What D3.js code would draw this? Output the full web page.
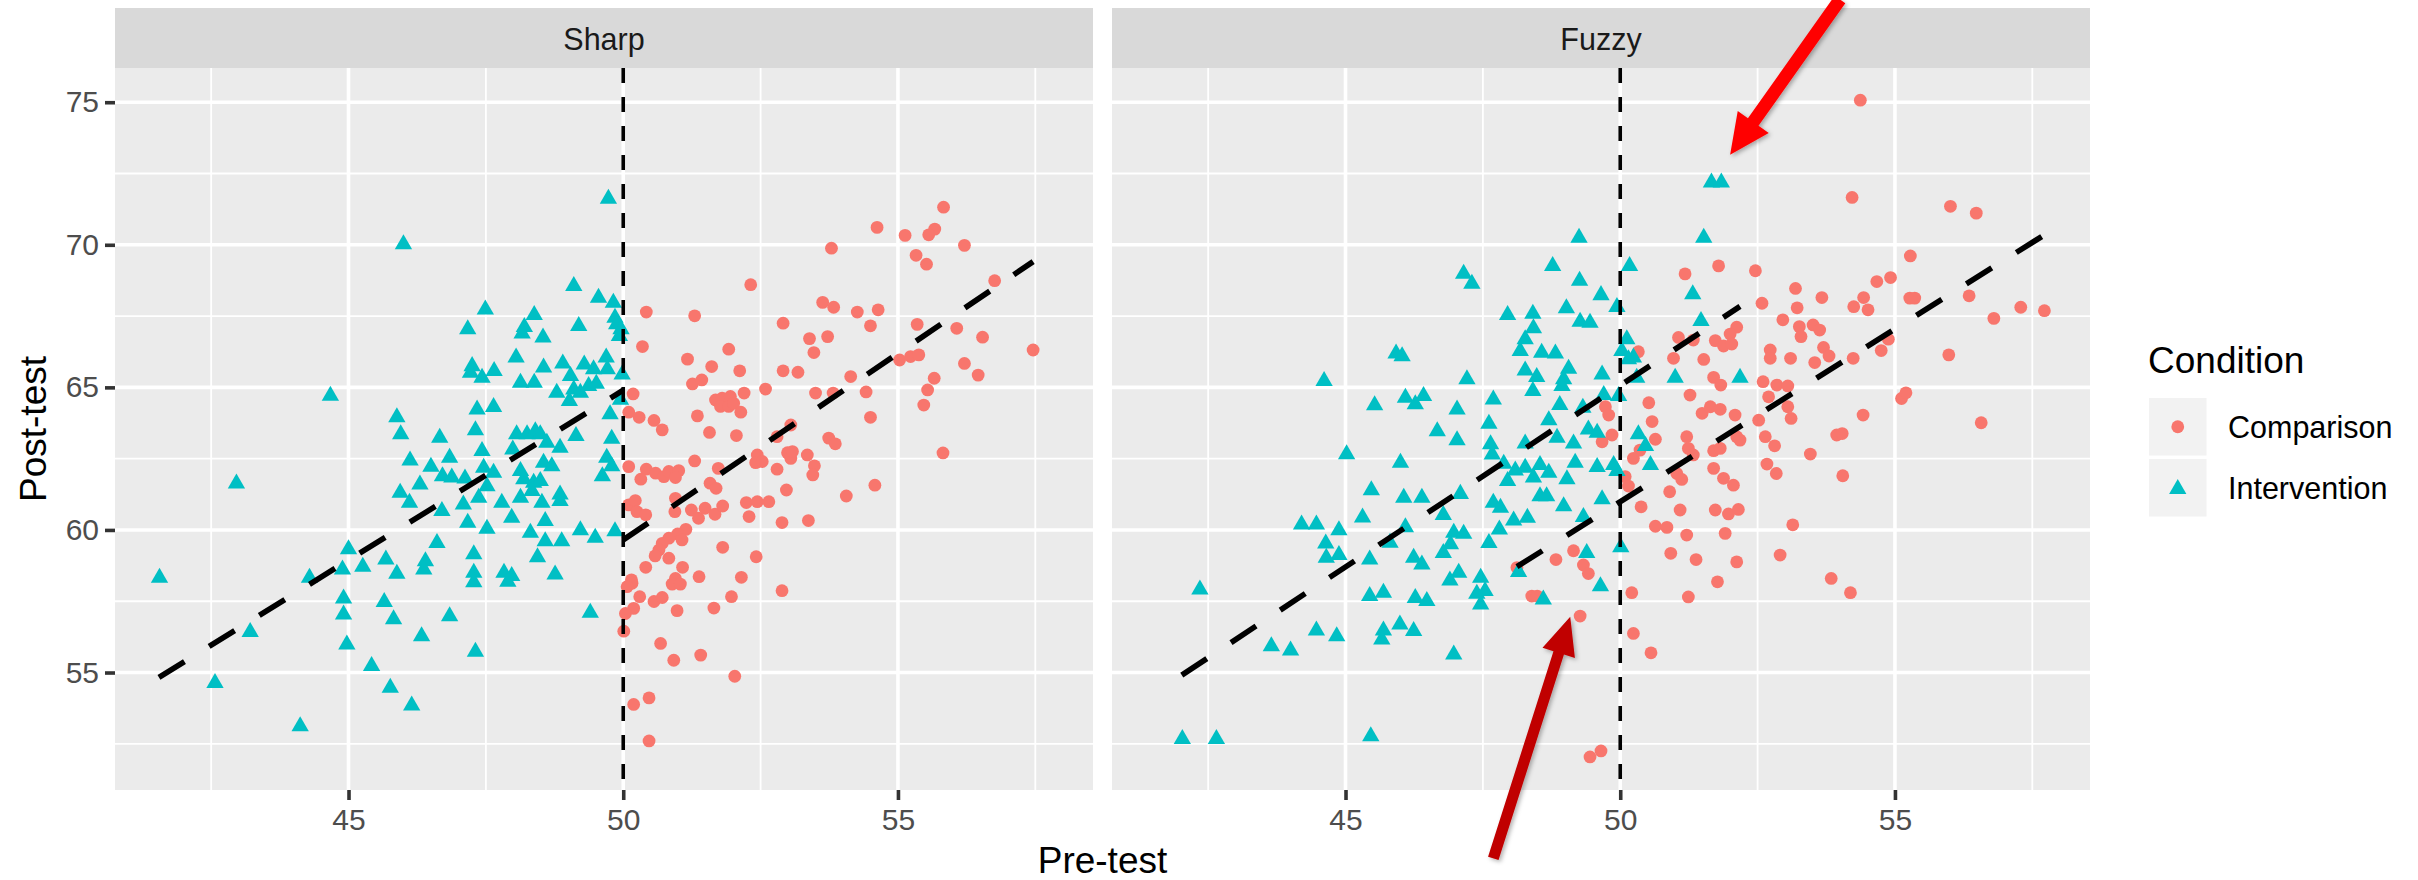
<!DOCTYPE html>
<html>
<head>
<meta charset="utf-8">
<script src="https://cdn.jsdelivr.net/npm/d3@7"></script>
<style>
  body { margin: 0; background: #fff; }
  svg { font-family: "Liberation Sans", Arial, sans-serif; display: block; }
</style>
</head>
<body>
<svg></svg>
<script>
// facets, legend, ticks
const facets = ['Sharp', 'Fuzzy'];
const conditions = ['Comparison', 'Intervention'];
const conditionColors = ['#F8766D', '#00BFC4'];
const xTicks = [45, 50, 55];
const xMinor = [42.5, 47.5, 52.5, 57.5];
const yTicks = [55, 60, 65, 70, 75];
const yMinor = [52.5, 57.5, 62.5, 67.5, 72.5];
const cutoff = 50;

// [pre-test, post-test]
const sharpIntervention = [
  [49.73,71.65],[46.00,70.05],[49.10,68.59],[49.55,68.18],[49.82,68.00],[47.49,67.77],[47.17,67.07],[48.38,67.57],
  [48.20,67.15],[48.16,66.92],[48.54,66.78],[49.19,67.19],[49.85,67.48],[49.88,67.25],[49.93,66.84],[49.96,67.07],
  [48.05,66.08],[47.25,65.78],[47.22,65.55],[47.43,65.37],[47.65,65.61],[48.13,65.20],[48.38,65.20],[48.55,65.73],
  [48.90,65.87],[49.04,65.43],[49.29,65.84],[49.46,65.67],[49.69,66.08],[49.71,65.67],[49.98,65.49],[48.79,64.85],
  [49.10,64.96],[49.22,64.85],[49.37,65.08],[49.51,65.16],[49.02,64.56],[49.76,64.09],[45.88,63.99],[45.95,63.39],
  [47.34,64.26],[47.64,64.35],[47.31,63.53],[46.66,63.27],[48.06,63.39],[48.25,63.39],[48.40,63.50],[48.49,63.39],
  [48.61,63.09],[48.85,62.92],[49.14,63.33],[49.79,63.23],[47.99,62.86],[47.43,62.80],[46.84,62.57],[46.12,62.47],
  [46.50,62.25],[46.71,61.92],[46.88,61.87],[47.12,61.84],[46.30,61.63],[47.46,62.22],[47.64,62.04],[47.52,61.57],
  [48.13,62.10],[48.55,62.39],[48.70,62.27],[48.19,61.81],[48.37,61.69],[48.49,61.75],[48.34,61.40],[48.13,61.16],
  [48.85,61.28],[48.85,61.05],[49.70,62.57],[49.79,62.27],[49.62,61.92],[45.94,61.34],[46.11,60.99],[46.70,60.70],
  [47.09,60.93],[47.37,61.16],[47.79,60.99],[48.52,60.99],[47.17,60.29],[47.52,60.08],[47.97,60.46],[48.58,60.35],
  [48.31,59.94],[49.22,60.02],[49.49,59.76],[49.85,59.99],[46.61,59.58],[48.58,59.64],[48.88,59.64],[45.68,59.00],
  [46.40,58.94],[46.37,58.65],[47.28,59.18],[48.44,59.08],[45.88,58.50],[47.28,58.53],[47.83,58.53],[47.97,58.42],
  [48.76,58.47],[49.95,64.60],[44.67,64.74],[42.96,61.66],[41.56,58.36],[42.57,54.67],[44.12,53.15],[43.21,56.46],
  [44.29,58.36],[45.00,59.36],[44.89,58.65],[45.26,58.74],[44.91,57.63],[44.91,57.07],[44.97,56.02],[45.65,57.51],
  [45.82,56.90],[45.42,55.26],[45.76,54.50],[46.15,53.88],[46.33,56.31],[47.31,55.76],[46.84,57.01],[47.28,58.20],
  [47.90,58.22],[49.40,57.13]
];

const sharpComparison = [
  [54.62,70.61],[55.13,70.33],[53.79,69.88],[52.32,68.60],[50.42,67.64],[51.30,67.51],[53.63,67.98],[53.83,67.81],
  [54.26,67.64],[54.64,67.72],[52.91,67.25],[54.50,67.16],[50.35,66.43],[53.39,66.71],[53.72,66.78],[53.47,66.22],
  [51.92,66.34],[51.17,65.99],[51.61,65.73],[52.12,65.58],[52.91,65.58],[53.18,65.53],[51.26,65.12],[51.43,65.26],
  [54.14,65.38],[55.03,65.96],[55.23,66.08],[50.18,64.77],[52.59,64.94],[52.20,64.80],[53.50,64.80],[53.82,64.80],
  [54.42,64.84],[51.68,64.56],[51.80,64.62],[51.95,64.68],[51.77,64.33],[51.92,64.33],[52.01,64.44],[52.14,64.13],
  [50.10,64.13],[50.29,63.95],[50.56,63.84],[50.71,63.51],[51.35,64.00],[51.57,63.42],[52.06,63.31],[53.05,63.68],
  [52.80,63.27],[53.74,63.22],[53.86,63.02],[54.50,63.95],[50.10,62.22],[50.42,62.13],[50.32,61.78],[50.59,61.99],
  [50.74,61.87],[50.83,62.05],[51.01,62.08],[50.95,61.84],[51.30,62.42],[51.73,62.16],[51.58,61.64],[51.69,61.46],
  [50.95,61.11],[52.44,62.63],[52.41,62.36],[52.53,62.40],[52.80,62.13],[52.99,62.71],[53.05,62.51],[53.08,62.75],
  [53.35,62.63],[53.48,62.25],[53.45,61.93],[52.97,61.40],[54.06,61.19],[54.58,61.57],[50.10,60.88],[50.22,61.03],
  [50.25,60.64],[50.41,60.53],[50.94,60.64],[51.24,60.70],[51.37,60.41],[51.49,60.76],[51.67,60.55],[51.81,60.84],
  [52.24,60.96],[52.44,60.99],[52.65,60.99],[52.29,60.47],[52.89,60.26],[53.37,60.33],[51.14,60.02],[50.99,59.86],
  [50.83,59.71],[51.07,59.65],[50.71,59.53],[50.65,59.30],[50.58,59.09],[50.83,59.01],[51.81,59.39],[52.42,59.06],
  [50.41,58.69],[51.08,58.69],[51.38,58.36],[52.15,58.34],[50.15,58.25],[50.95,58.30],[50.16,58.13],[50.07,58.01],
  [50.89,58.10],[51.04,58.10],[52.89,57.87],[50.30,57.66],[50.56,57.49],[50.71,57.63],[50.19,57.25],[50.04,57.07],
  [50.98,57.17],[51.65,57.26],[51.97,57.66],[50.01,56.45],[50.68,56.02],[50.92,55.43],[51.41,55.61],[52.03,54.87],
  [50.19,53.88],[50.47,54.11],[50.47,52.60],[55.83,71.32],[55.67,70.55],[55.56,70.35],[55.33,69.63],[55.52,69.32],
  [56.21,69.98],[56.76,68.74],[55.35,67.21],[56.07,67.07],[56.54,66.76],[57.46,66.31],[55.38,66.14],[56.21,65.84],
  [56.46,65.43],[55.66,65.32],[55.54,64.91],[55.47,64.38],[55.82,62.70]
];

const fuzzyIntervention = [
  [49.25,70.28],[51.52,70.28],[50.17,69.29],[48.77,69.29],[47.15,69.02],[47.30,68.67],[49.26,68.77],[49.65,68.27],
  [49.94,67.85],[51.32,68.30],[49.02,67.81],[47.95,67.57],[48.41,67.62],[48.42,67.11],[49.27,67.34],[49.45,67.30],
  [51.47,67.36],[48.27,66.72],[48.18,66.31],[48.57,66.25],[48.82,66.22],[50.12,66.72],[50.03,66.31],[50.24,66.08],
  [50.15,66.02],[46.03,66.13],[48.27,65.63],[48.48,65.40],[49.06,65.69],[48.97,65.32],[48.94,65.08],[49.67,65.49],
  [50.30,65.37],[51.00,65.37],[52.18,65.37],[47.21,65.32],[48.41,64.91],[46.42,64.73],[46.09,64.67],[46.27,64.44],
  [47.69,64.61],[48.90,64.42],[49.70,64.77],[49.97,64.73],[47.03,64.26],[49.32,64.32],[48.70,63.88],[47.61,63.76],
  [46.67,63.50],[47.03,63.18],[48.85,63.27],[49.42,63.56],[49.58,63.44],[50.33,63.39],[50.46,62.98],[47.64,63.04],
  [48.27,63.07],[49.15,63.07],[47.67,62.68],[47.88,62.36],[48.09,62.12],[48.27,62.22],[48.42,61.87],[48.54,62.31],
  [48.70,62.04],[47.95,61.75],[49.03,61.81],[49.18,62.39],[49.58,62.24],[49.88,62.31],[49.94,62.10],[50.55,62.31],
  [46.00,62.39],[46.06,61.16],[46.39,61.16],[47.09,61.30],[47.69,60.99],[47.82,60.81],[48.54,61.22],[48.66,61.22],
  [48.97,60.87],[49.67,61.11],[46.78,60.56],[48.06,60.37],[48.31,60.46],[47.80,60.05],[49.33,60.49],[46.09,60.13],
  [46.97,59.94],[47.15,59.90],[47.61,59.58],[46.91,59.53],[46.78,59.23],[50.01,59.43],[49.39,59.23],[46.24,59.06],
  [46.39,58.82],[47.06,58.53],[46.90,58.26],[47.46,58.36],[48.15,58.56],[49.64,58.06],[47.39,57.80],[47.54,57.89],
  [47.46,57.42],[46.27,57.65],[46.48,57.54],[48.60,57.60],[46.24,56.49],[45.02,62.69],[45.47,61.43],[45.31,60.47],
  [44.20,60.23],[44.47,60.23],[44.88,60.02],[44.64,59.56],[44.65,59.06],[44.88,59.16],[45.44,59.00],[45.81,59.59],
  [42.35,57.95],[45.44,57.72],[45.69,57.83],[44.47,56.51],[44.84,56.31],[43.65,55.96],[44.00,55.81],[45.99,56.72],
  [45.69,56.51],[45.66,56.19],[46.97,55.67],[42.03,52.70],[42.65,52.70],[45.46,52.80],[45.92,66.22],[44.61,65.26],
  [45.53,64.41],[51.66,72.22],[51.84,72.22]
];

const fuzzyComparison = [
  [51.18,68.98],[51.79,69.26],[52.46,69.09],[52.58,67.95],[52.12,67.11],[52.00,66.87],[51.06,66.75],[51.33,66.66],
  [51.73,66.64],[51.88,66.45],[52.03,66.52],[50.33,66.25],[50.97,66.02],[51.52,65.98],[52.73,66.31],[52.73,66.02],
  [51.70,65.35],[51.83,65.08],[52.60,65.20],[52.85,65.08],[51.27,64.73],[50.52,64.46],[50.58,63.80],[51.49,64.09],
  [51.64,64.32],[51.82,64.23],[52.09,64.03],[52.52,63.85],[52.70,64.67],[49.73,64.32],[49.79,64.03],[49.67,63.09],
  [49.85,63.33],[50.64,63.18],[51.21,63.27],[51.24,62.86],[51.70,62.78],[51.82,62.86],[52.12,63.27],[52.18,63.15],
  [52.64,63.27],[50.36,62.80],[50.24,62.51],[51.33,62.63],[52.67,62.31],[52.84,61.98],[50.09,61.87],[50.15,61.54],
  [51.03,61.98],[51.12,61.77],[51.70,62.16],[51.88,61.81],[52.06,61.57],[50.90,61.34],[50.38,60.81],[51.09,60.70],
  [51.73,60.70],[51.97,60.56],[52.15,60.72],[50.64,60.13],[50.85,60.09],[51.21,59.82],[51.91,59.88],[50.92,59.18],
  [51.38,58.96],[52.12,58.88],[52.91,59.12],[51.77,58.18],[51.24,57.65],[50.21,57.80],[50.24,56.37],[48.83,58.96],
  [49.15,59.27],[49.33,58.77],[49.42,58.47],[48.12,58.68],[48.39,57.68],[48.49,57.68],[49.27,56.98],[54.37,75.07],
  [54.22,71.66],[56.01,71.35],[56.48,71.11],[55.28,69.61],[53.19,68.47],[53.67,68.15],[53.22,67.79],[54.25,67.83],
  [54.43,68.15],[54.51,67.72],[54.67,68.71],[54.92,68.85],[55.27,68.13],[55.36,68.13],[56.35,68.21],[56.80,67.42],
  [57.29,67.81],[57.72,67.69],[52.96,67.37],[53.26,67.13],[53.51,67.19],[53.63,67.01],[53.29,66.78],[53.10,66.02],
  [53.54,65.87],[53.70,66.40],[53.80,66.10],[54.24,66.02],[54.75,66.29],[54.88,66.69],[55.98,66.14],[53.05,65.05],
  [53.05,64.32],[53.11,63.91],[55.12,64.61],[55.20,64.81],[54.42,64.03],[56.57,63.76],[53.94,63.33],[54.04,63.38],
  [53.46,62.66],[52.81,62.95],[54.05,61.90],[53.14,60.18],[53.84,58.30],[54.19,57.80],[50.56,55.69],[49.45,52.04],
  [49.65,52.25]
];

// fitted regression segments, [start, end]
const sharpFitComparison = [[50, 59.65], [57.46, 69.41]];
const sharpFitIntervention = [[41.55, 54.83], [50, 64.9]];
const fuzzyFitComparison = [[48.12, 58.71], [57.72, 70.35]];
const fuzzyFitIntervention = [[42.02, 54.91], [52.18, 67.84]];

// annotation arrows on the Fuzzy panel, [tail, tip] in data units
const arrowTop = [[54.0, 78.6], [52.0, 73.16]];
const arrowBottom = [[47.69, 48.48], [49.09, 56.96]];

const panelData = {
  Sharp: { points: [sharpComparison, sharpIntervention], fits: [sharpFitComparison, sharpFitIntervention] },
  Fuzzy: { points: [fuzzyComparison, fuzzyIntervention], fits: [fuzzyFitComparison, fuzzyFitIntervention] }
};

const width = 2418;
const height = 880;
const panelTop = 68;
const panelBottom = 790;
const panelWidth = 978;
const stripTop = 8;
const panelLeft = { Sharp: 115, Fuzzy: 1112 };

const svg = d3.select('svg')
  .attr('width', width)
  .attr('height', height);

const xScale = d3.scaleLinear()
  .domain([40.75, 58.55])
  .range([0, panelWidth]);

const yScale = d3.scaleLinear()
  .domain([50.88, 76.2])
  .range([panelBottom, panelTop]);

const triangle = d3.symbol().type(d3.symbolTriangle).size(130);

const defs = svg.append('defs');
defs.append('filter')
  .attr('id', 'shadow')
  .attr('x', '-50%').attr('y', '-50%').attr('width', '200%').attr('height', '200%')
  .append('feDropShadow')
  .attr('dx', 2).attr('dy', 2).attr('stdDeviation', 2)
  .attr('flood-color', '#000').attr('flood-opacity', 0.3);

facets.forEach(facet => {
  const g = svg.append('g')
    .attr('transform', `translate(${panelLeft[facet]},0)`);

  // strip
  g.append('rect')
    .attr('x', 0).attr('y', stripTop)
    .attr('width', panelWidth).attr('height', panelTop - stripTop)
    .attr('fill', '#D9D9D9');
  g.append('text')
    .attr('x', panelWidth / 2).attr('y', 50)
    .attr('text-anchor', 'middle')
    .attr('font-size', 30.5)
    .attr('fill', '#1A1A1A')
    .text(facet);

  // panel background + grid
  g.append('rect')
    .attr('x', 0).attr('y', panelTop)
    .attr('width', panelWidth).attr('height', panelBottom - panelTop)
    .attr('fill', '#EBEBEB');

  g.selectAll('.minor-x').data(xMinor).enter().append('line')
    .attr('x1', d => xScale(d)).attr('x2', d => xScale(d))
    .attr('y1', panelTop).attr('y2', panelBottom)
    .attr('stroke', '#fff').attr('stroke-width', 1.8);
  g.selectAll('.minor-y').data(yMinor).enter().append('line')
    .attr('x1', 0).attr('x2', panelWidth)
    .attr('y1', d => yScale(d)).attr('y2', d => yScale(d))
    .attr('stroke', '#fff').attr('stroke-width', 1.8);
  g.selectAll('.major-x').data(xTicks).enter().append('line')
    .attr('x1', d => xScale(d)).attr('x2', d => xScale(d))
    .attr('y1', panelTop).attr('y2', panelBottom)
    .attr('stroke', '#fff').attr('stroke-width', 3.6);
  g.selectAll('.major-y').data(yTicks).enter().append('line')
    .attr('x1', 0).attr('x2', panelWidth)
    .attr('y1', d => yScale(d)).attr('y2', d => yScale(d))
    .attr('stroke', '#fff').attr('stroke-width', 3.6);

  // points
  const [comp, inter] = panelData[facet].points;
  g.selectAll('.comparison').data(comp).enter().append('circle')
    .attr('class', 'comparison')
    .attr('cx', d => xScale(d[0]))
    .attr('cy', d => yScale(d[1]))
    .attr('r', 6.4)
    .attr('fill', conditionColors[0]);
  g.selectAll('.intervention').data(inter).enter().append('path')
    .attr('class', 'intervention')
    .attr('d', triangle)
    .attr('transform', d => `translate(${xScale(d[0])},${yScale(d[1]) + 1})`)
    .attr('fill', conditionColors[1]);

  // regression fits
  const line = d3.line().x(d => xScale(d[0])).y(d => yScale(d[1]));
  g.selectAll('.fit').data(panelData[facet].fits).enter().append('path')
    .attr('d', line)
    .attr('fill', 'none')
    .attr('stroke', '#000')
    .attr('stroke-width', 5.6)
    .attr('stroke-dasharray', '30,29');

  // cutoff
  g.append('line')
    .attr('x1', xScale(cutoff)).attr('x2', xScale(cutoff))
    .attr('y1', panelTop).attr('y2', panelBottom)
    .attr('stroke', '#000')
    .attr('stroke-width', 3.6)
    .attr('stroke-dasharray', '15,14');

  // x axis
  const xAxis = d3.axisBottom(xScale).tickValues(xTicks).tickSize(10).tickPadding(9);
  const ax = g.append('g')
    .attr('transform', `translate(0,${panelBottom})`)
    .call(xAxis);
  ax.select('.domain').remove();
  ax.selectAll('line').attr('stroke', '#333').attr('stroke-width', 3.6);
  ax.selectAll('text')
    .attr('fill', '#4D4D4D')
    .attr('font-size', 30)
    .attr('font-family', '"Liberation Sans", Arial, sans-serif');
});

// y axis, left panel only
const yAxis = d3.axisLeft(yScale).tickValues(yTicks).tickSize(10).tickPadding(6);
const ay = svg.append('g')
  .attr('transform', `translate(${panelLeft.Sharp},0)`)
  .call(yAxis);
ay.select('.domain').remove();
ay.selectAll('line').attr('stroke', '#333').attr('stroke-width', 3.6);
ay.selectAll('text')
  .attr('fill', '#4D4D4D')
  .attr('font-size', 30)
  .attr('font-family', '"Liberation Sans", Arial, sans-serif');

// axis titles
svg.append('text')
  .attr('x', (panelLeft.Sharp + panelLeft.Fuzzy + panelWidth) / 2)
  .attr('y', 873)
  .attr('text-anchor', 'middle')
  .attr('font-size', 37)
  .attr('fill', '#000')
  .text('Pre-test');

svg.append('text')
  .attr('transform', `translate(46,${(panelTop + panelBottom) / 2}) rotate(-90)`)
  .attr('text-anchor', 'middle')
  .attr('font-size', 37)
  .attr('fill', '#000')
  .text('Post-test');

// legend
const legend = svg.append('g').attr('transform', 'translate(2148,0)');
legend.append('text')
  .attr('x', 0).attr('y', 373)
  .attr('font-size', 37)
  .attr('fill', '#000')
  .text('Condition');

const keys = legend.selectAll('.key').data(conditions).enter().append('g')
  .attr('transform', (d, i) => `translate(1,${398 + i * 61})`);
keys.append('rect')
  .attr('width', 57.5).attr('height', 57.5)
  .attr('fill', '#F2F2F2');
keys.filter((d, i) => i === 0).append('circle')
  .attr('cx', 28.75).attr('cy', 28.75).attr('r', 6.4)
  .attr('fill', conditionColors[0]);
keys.filter((d, i) => i === 1).append('path')
  .attr('d', triangle)
  .attr('transform', 'translate(28.75,30)')
  .attr('fill', conditionColors[1]);
keys.append('text')
  .attr('x', 79).attr('y', 39.5)
  .attr('font-size', 30.5)
  .attr('fill', '#000')
  .text(d => d);

// arrows
function arrowPath(tail, tip, shaft, headLen, headHalf) {
  const dx = tip[0] - tail[0], dy = tip[1] - tail[1];
  const len = Math.hypot(dx, dy);
  const ux = dx / len, uy = dy / len, px = -uy, py = ux;
  const bx = tip[0] - ux * headLen, by = tip[1] - uy * headLen;
  return d3.line()([
    [tail[0] + px * shaft, tail[1] + py * shaft],
    [bx + px * shaft, by + py * shaft],
    [bx + px * headHalf, by + py * headHalf],
    tip,
    [bx - px * headHalf, by - py * headHalf],
    [bx - px * shaft, by - py * shaft],
    [tail[0] - px * shaft, tail[1] - py * shaft]
  ]) + 'Z';
}

const toFuzzy = d => [panelLeft.Fuzzy + xScale(d[0]), yScale(d[1])];

svg.append('path')
  .attr('d', arrowPath(toFuzzy(arrowTop[0]), toFuzzy(arrowTop[1]), 6.5, 40, 19))
  .attr('fill', '#FF0000')
  .attr('filter', 'url(#shadow)');

svg.append('path')
  .attr('d', arrowPath(toFuzzy(arrowBottom[0]), toFuzzy(arrowBottom[1]), 5.5, 38, 17))
  .attr('fill', '#C00000')
  .attr('filter', 'url(#shadow)');
</script>
</body>
</html>
